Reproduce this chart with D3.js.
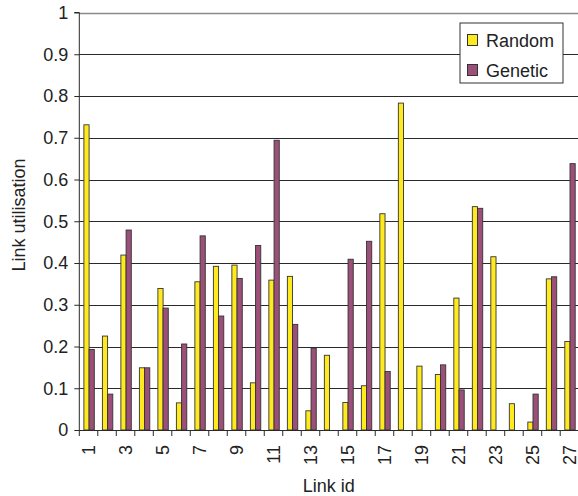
<!DOCTYPE html>
<html>
<head>
<meta charset="utf-8">
<script src="https://cdn.jsdelivr.net/npm/d3@7"></script>
<style>
  html, body { margin: 0; padding: 0; background: #fff; }
  svg { display: block; font-family: "Liberation Sans", Arial, sans-serif; }
</style>
</head>
<body>
<svg id="chart" width="578" height="496"></svg>
<script>
const linkIds = d3.range(1, 28);
const seriesNames = ["Random", "Genetic"];
const randomValues = [0.731, 0.225, 0.419, 0.149, 0.339, 0.065, 0.355, 0.392, 0.395, 0.113,
                      0.359, 0.368, 0.046, 0.179, 0.066, 0.106, 0.518, 0.783, 0.153, 0.133,
                      0.316, 0.535, 0.415, 0.063, 0.019, 0.362, 0.212];
const geneticValues = [0.193, 0.086, 0.479, 0.149, 0.292, 0.206, 0.465, 0.273, 0.363, 0.442,
                       0.694, 0.253, 0.196, 0, 0.409, 0.452, 0.140, 0, 0, 0.156,
                       0.096, 0.531, 0, 0, 0.086, 0.367, 0.638];
const yTicks = [0, 0.1, 0.2, 0.3, 0.4, 0.5, 0.6, 0.7, 0.8, 0.9, 1];
const xTickLabels = linkIds.filter(d => d % 2 === 1);
const colors = { Random: "#FFEA1F", Genetic: "#9C4F78" };

(function draw() {
const svg = d3.select("#chart");
const pLeft = 79.3, pRight = 578.7, pTop = 12.5, pBottom = 430;

const x0 = d3.scaleBand().domain(linkIds).range([pLeft, pRight]).padding(0);
const x1 = d3.scaleBand().domain(seriesNames).range([4.6, 15.0]).padding(0);
const y = d3.scaleLinear().domain([0, 1]).range([pBottom, pTop]);

// gridlines
svg.append("g").selectAll("line").data(yTicks.filter(d => d > 0)).join("line")
  .attr("x1", pLeft).attr("x2", 578)
  .attr("y1", d => Math.round(y(d)) + 0.5).attr("y2", d => Math.round(y(d)) + 0.5)
  .attr("stroke", d => d === 1 ? "#8a8a8a" : "#2a2a2a")
  .attr("stroke-width", d => d === 1 ? 1.4 : 1);

// bars
const rows = linkIds.map((id, i) => ({ id, Random: randomValues[i], Genetic: geneticValues[i] }));
const groups = svg.append("g").selectAll("g").data(rows).join("g")
  .attr("transform", d => `translate(${x0(d.id)},0)`);
groups.selectAll("rect")
  .data(d => seriesNames.map(s => ({ s, v: d[s] })).filter(e => e.v > 0))
  .join("rect")
  .attr("x", d => x1(d.s))
  .attr("width", x1.bandwidth())
  .attr("y", d => y(d.v))
  .attr("height", d => y(0) - y(d.v))
  .attr("fill", d => colors[d.s])
  .attr("stroke", "#333")
  .attr("stroke-width", 0.9);

// y axis
const yAxis = d3.axisLeft(y).tickValues(yTicks).tickFormat(d => String(+d.toFixed(1)))
  .tickSize(5).tickPadding(6);
const yg = svg.append("g").attr("transform", `translate(${pLeft},0)`).call(yAxis);
yg.select(".domain").attr("stroke", "#2a2a2a").attr("d", `M-5,${pTop}H0V${pBottom}`);
yg.selectAll(".tick line").attr("stroke", "#2a2a2a");
yg.selectAll(".tick text").attr("font-size", 18).attr("fill", "#222")
  .attr("font-family", "Liberation Sans, Arial, sans-serif");

// x axis: ticks at category boundaries
const xg = svg.append("g").attr("transform", `translate(0,${pBottom})`);
xg.append("line").attr("x1", pLeft).attr("x2", 578).attr("y1", 0.5).attr("y2", 0.5)
  .attr("stroke", "#2a2a2a");
xg.selectAll("line.tk").data(linkIds).join("line").attr("class", "tk")
  .attr("x1", d => x0(d)).attr("x2", d => x0(d))
  .attr("y1", 0).attr("y2", 6).attr("stroke", "#2a2a2a");
xg.selectAll("text").data(xTickLabels).join("text")
  .attr("transform", d => `translate(${x0(d) + x0.bandwidth() / 2},15) rotate(-90)`)
  .attr("text-anchor", "end")
  .attr("dy", "0.35em")
  .attr("font-size", 18).attr("fill", "#222")
  .text(d => d);

// axis titles
svg.append("text").attr("x", (pLeft + 578) / 2).attr("y", 492)
  .attr("text-anchor", "middle").attr("font-size", 18).attr("fill", "#222").text("Link id");
svg.append("text").attr("transform", `translate(25,215) rotate(-90)`)
  .attr("text-anchor", "middle").attr("font-size", 18).attr("fill", "#222").text("Link utilisation");

// legend
const lg = svg.append("g").attr("transform", "translate(460,23)");
lg.append("rect").attr("width", 103).attr("height", 60).attr("fill", "#fff")
  .attr("stroke", "#333").attr("stroke-width", 1);
seriesNames.forEach((s, i) => {
  lg.append("rect").attr("x", 7.5).attr("y", 11.5 + i * 30).attr("width", 10).attr("height", 11)
    .attr("fill", colors[s]).attr("stroke", "#333").attr("stroke-width", 1);
  lg.append("text").attr("x", 26).attr("y", 24 + i * 30).attr("font-size", 18).attr("fill", "#222").text(s);
});
})();
</script>
</body>
</html>
